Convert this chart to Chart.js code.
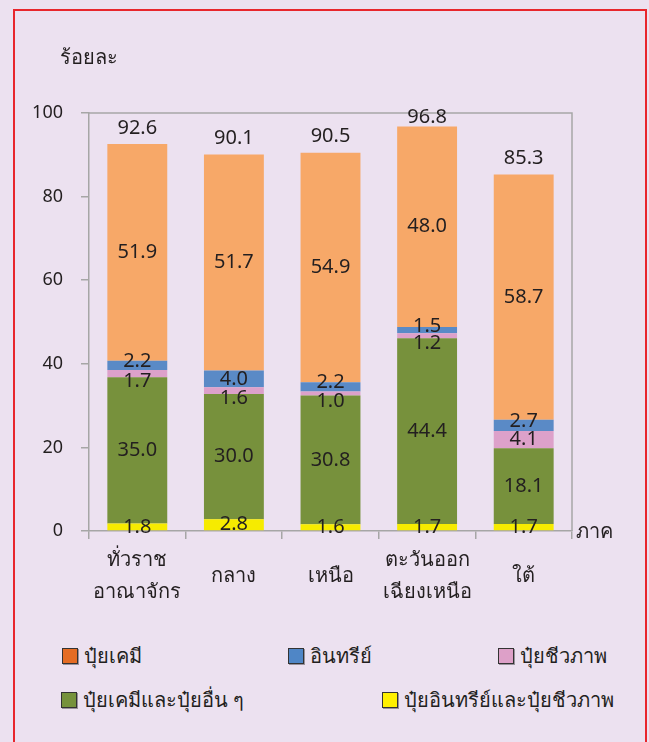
<!DOCTYPE html>
<html>
<head>
<meta charset="utf-8">
<script src="https://cdn.jsdelivr.net/npm/chart.js@4.4.0/dist/chart.umd.min.js"></script>
<style>
  body { margin: 0; background: #ece1f0; font-family: "Noto Sans", sans-serif; color: #231f20; }
  #wrap { position: relative; width: 649px; height: 742px; overflow: hidden; }
  #frame { position: absolute; left: 13px; top: 9px; width: 630px; height: 800px; border: 2px solid #e8262d; }
  #chart { position: absolute; left: 0; top: 0; }
  .note { position: absolute; font-size: 20px; line-height: 24px; }
  .legend-item { position: absolute; font-size: 20px; line-height: 24px; display: flex; align-items: center; white-space: nowrap; }
  .legend-item .box { width: 14px; height: 14px; border: 1px solid #333; margin-right: 6px; box-shadow: 1px 1px 0 rgba(0,0,0,0.35); }
</style>
</head>
<body>
<div id="wrap">
  <div id="frame"></div>
  <canvas id="chart" width="649" height="620"></canvas>
  <div class="note" style="left:60px; top:45px;">ร้อยละ</div>
  <div class="note" style="left:576px; top:519px;">ภาค</div>
  <div id="legend"></div>
</div>
<script>
// regions (x categories)
const regions = [["ทั่วราช", "อาณาจักร"], "กลาง", "เหนือ", ["ตะวันออก", "เฉียงเหนือ"], "ใต้"];

// series values, bottom to top
const organicBio = [1.8, 2.8, 1.6, 1.7, 1.7];
const chemOther = [35.0, 30.0, 30.8, 44.4, 18.1];
const bio = [1.7, 1.6, 1.0, 1.2, 4.1];
const organic = [2.2, 4.0, 2.2, 1.5, 2.7];
const chemical = [51.9, 51.7, 54.9, 48.0, 58.7];
const totals = [92.6, 90.1, 90.5, 96.8, 85.3];

const yTicks = [0, 20, 40, 60, 80, 100];

const seriesNames = ["ปุ๋ยอินทรีย์และปุ๋ยชีวภาพ", "ปุ๋ยเคมีและปุ๋ยอื่น ๆ", "ปุ๋ยชีวภาพ", "อินทรีย์", "ปุ๋ยเคมี"];
const barColors = ["#f6eb00", "#77913c", "#dda1ca", "#5a8ac6", "#f7a868"];
const legendColors = ["#fff000", "#76923c", "#dda0c8", "#4f86c6", "#e46c24"];

// legend layout (left, top) in reading order of the reference
const legendOrder = [4, 3, 2, 1, 0];
const legendPos = [[62, 644], [288, 644], [498, 644], [61, 688], [382, 688]];

const legend = document.getElementById("legend");
legendOrder.forEach((s, i) => {
  const item = document.createElement("div");
  item.className = "legend-item";
  item.style.left = legendPos[i][0] + "px";
  item.style.top = legendPos[i][1] + "px";
  item.innerHTML = '<span class="box" style="background:' + legendColors[s] + '"></span>' + seriesNames[s];
  legend.appendChild(item);
});

const plotFrame = {
  id: "plotFrame",
  beforeDatasetsDraw(chart) {
    const { ctx, chartArea: a } = chart;
    ctx.save();
    ctx.strokeStyle = "#a6a6a6";
    ctx.lineWidth = 1.5;
    ctx.beginPath();
    ctx.moveTo(a.left, a.top);
    ctx.lineTo(a.right, a.top);
    ctx.lineTo(a.right, a.bottom);
    ctx.stroke();
    ctx.restore();
  }
};

const valueLabels = {
  id: "valueLabels",
  afterDatasetsDraw(chart) {
    const ctx = chart.ctx;
    ctx.save();
    ctx.font = "20px 'Noto Sans'";
    ctx.fillStyle = "#231f20";
    ctx.textAlign = "center";
    ctx.textBaseline = "middle";
    chart.data.datasets.forEach((ds, i) => {
      const meta = chart.getDatasetMeta(i);
      meta.data.forEach((bar, j) => {
        const h = Math.abs(bar.base - bar.y);
        let y = (bar.y + bar.base) / 2;
        if (h < 14 && ds.nudge) y += ds.nudge;
        ctx.fillText(ds.data[j].toFixed(1), bar.x, y);
      });
    });
    // totals above the stacks, kept inside the plot box
    const yScale = chart.scales.y;
    const last = chart.getDatasetMeta(chart.data.datasets.length - 1);
    last.data.forEach((bar, j) => {
      const y = Math.max(yScale.getPixelForValue(totals[j]) - 16, chart.chartArea.top + 4);
      ctx.fillText(totals[j].toFixed(1), bar.x, y);
    });
    ctx.restore();
  }
};

const seriesData = [organicBio, chemOther, bio, organic, chemical];
const nudges = [0, 0, 8, -4, 0];

new Chart(document.getElementById("chart"), {
  type: "bar",
  data: {
    labels: regions,
    datasets: seriesData.map((d, i) => ({
      label: seriesNames[i],
      data: d,
      backgroundColor: barColors[i],
      borderWidth: 0,
      barPercentage: 0.62,
      categoryPercentage: 1,
      nudge: nudges[i],
    })),
  },
  options: {
    responsive: false,
    animation: false,
    layout: { padding: { left: 0, top: 113, right: 77, bottom: 0 } },
    plugins: {
      legend: { display: false },
      tooltip: { enabled: false },
    },
    scales: {
      x: {
        stacked: true,
        afterFit: (scale) => { scale.height = 89; },
        grid: { drawOnChartArea: false, drawTicks: true, tickLength: 8, color: "#a6a6a6", lineWidth: 1.5 },
        border: { color: "#a6a6a6", width: 1.5 },
        ticks: {
          color: "#231f20",
          font: { family: "Noto Sans", size: 20, lineHeight: 1.6 },
          padding: 21,
          crossAlign: "center",
          maxRotation: 0,
          autoSkip: false,
        },
      },
      y: {
        stacked: true,
        min: 0,
        max: 100,
        afterFit: (scale) => { scale.width = 89; },
        afterBuildTicks: (scale) => { scale.ticks = yTicks.map((v) => ({ value: v })); },
        grid: { drawOnChartArea: false, drawTicks: true, tickLength: 8, color: "#a6a6a6", lineWidth: 1.5 },
        border: { color: "#a6a6a6", width: 1.5 },
        ticks: {
          color: "#231f20",
          font: { family: "Noto Sans", size: 18 },
          padding: 18,
        },
      },
    },
  },
  plugins: [plotFrame, valueLabels],
});
</script>
</body>
</html>
